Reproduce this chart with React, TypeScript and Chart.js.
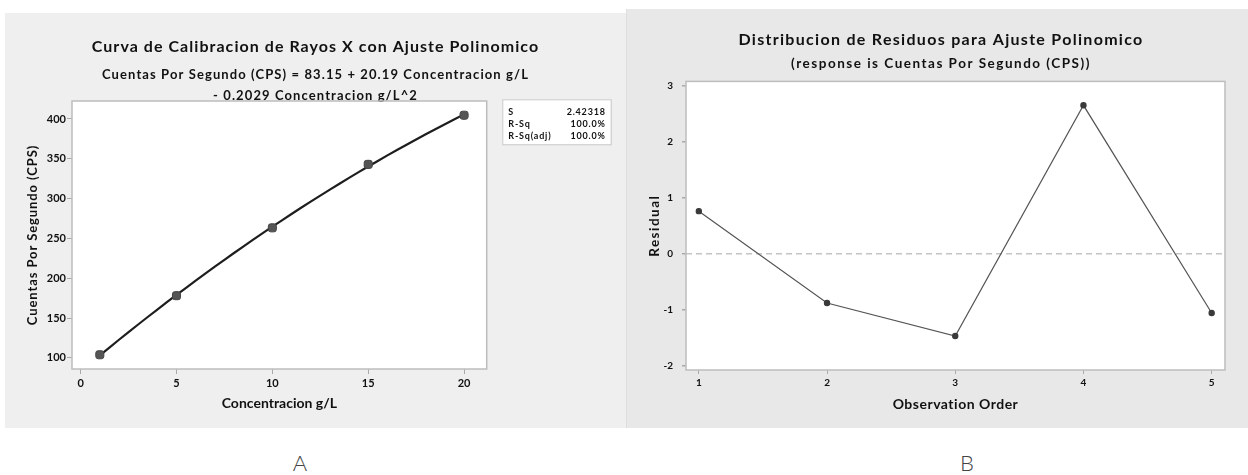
import React, { useEffect, useRef } from "react";
import { Chart, registerables } from "chart.js";
Chart.register(...registerables);

const FONT = "Lato, 'Open Sans', 'DejaVu Sans', sans-serif";

// ---- Panel A data ----
const concentration = [1, 5, 10, 15, 20];
const cps = [103.9, 178.1, 263.3, 343.0, 404.7];
const fitConcentration = [1, 2, 3, 4, 5, 6, 7, 8, 9, 10, 11, 12, 13, 14, 15, 16, 17, 18, 19, 20];
const fitCps = [103.14, 122.72, 141.89, 160.66, 179.03, 196.99, 214.54, 231.68, 248.42, 264.76,
  280.69, 296.21, 311.33, 326.04, 340.35, 354.25, 367.74, 380.83, 393.51, 405.79];
const xTicksA = [0, 5, 10, 15, 20];
const yTicksA = [100, 150, 200, 250, 300, 350, 400];
const titleA = "Curva de Calibracion de Rayos X con Ajuste Polinomico";
const subtitleA = ["Cuentas Por Segundo (CPS) = 83.15 + 20.19 Concentracion g/L", "- 0.2029 Concentracion g/L^2"];
const xTitleA = "Concentracion g/L";
const yTitleA = "Cuentas Por Segundo (CPS)";
const statLabels = ["S", "R-Sq", "R-Sq(adj)"];
const statValues = ["2.42318", "100.0%", "100.0%"];

// ---- Panel B data ----
const observationOrder = [1, 2, 3, 4, 5];
const residuals = [0.76, -0.88, -1.47, 2.65, -1.06];
const xTicksB = [1, 2, 3, 4, 5];
const yTicksB = [-2, -1, 0, 1, 2, 3];
const titleB = "Distribucion de Residuos para Ajuste Polinomico";
const subtitleB = "(response is Cuentas Por Segundo (CPS))";
const xTitleB = "Observation Order";
const yTitleB = "Residual";

const framePlugin = {
  id: "frame",
  beforeDraw(chart: any) {
    const { ctx, chartArea: a } = chart;
    ctx.save();
    ctx.fillStyle = "#ffffff";
    ctx.fillRect(a.left, a.top, a.right - a.left, a.bottom - a.top);
    ctx.restore();
  },
  afterDraw(chart: any) {
    const { ctx, chartArea: a } = chart;
    ctx.save();
    ctx.strokeStyle = "#bdbdbd";
    ctx.lineWidth = 1.5;
    ctx.strokeRect(a.left, a.top, a.right - a.left, a.bottom - a.top);
    ctx.restore();
  },
};

// letter spacing for individual text elements (the reference text is widely spaced)
function makeSpacingPlugin(cfg: { title: number; subtitle: number; xTitle: number; yTitle: number; ticks: number }) {
  return {
    id: "spacing",
    beforeDraw(chart: any) {
      if (chart.$spaced) return;
      chart.$spaced = true;
      const ctx = chart.ctx;
      const wrap = (obj: any, key: string, ls: number) => {
        const orig = obj[key];
        obj[key] = function (...args: any[]) {
          const prev = ctx.letterSpacing;
          ctx.letterSpacing = ls + "px";
          try {
            return orig.apply(this, args);
          } finally {
            ctx.letterSpacing = prev || "0px";
          }
        };
      };
      chart.boxes.forEach((b: any) => {
        if (b === chart.titleBlock) {
          wrap(b, "draw", cfg.title);
        } else if (b.options && b.options.text !== undefined && !b.axis && b.constructor && b.draw && !b.id) {
          wrap(b, "draw", cfg.subtitle);
        }
      });
      Object.values(chart.scales).forEach((s: any) => {
        if (s.id === "x") wrap(s, "drawTitle", cfg.xTitle);
        if (s.id === "y") wrap(s, "drawTitle", cfg.yTitle);
        wrap(s, "drawLabels", cfg.ticks);
      });
    },
  };
}

const statBoxPlugin = {
  id: "statBox",
  afterDraw(chart: any) {
    const { ctx, chartArea: a } = chart;
    const left = a.right + 15.6;
    const top = a.top - 1.7;
    const w = 108.4;
    const h = 45;
    ctx.save();
    ctx.fillStyle = "#ffffff";
    ctx.fillRect(left, top, w, h);
    ctx.strokeStyle = "#c8c8c8";
    ctx.lineWidth = 1;
    ctx.strokeRect(left + 0.5, top + 0.5, w, h);
    ctx.fillStyle = "#111";
    ctx.font = `bold 9px ${FONT}`;
    (ctx as any).letterSpacing = "0.8px";
    ctx.textBaseline = "middle";
    statLabels.forEach((lab, i) => {
      const y = top + 12.4 + i * 12.3;
      ctx.textAlign = "left";
      ctx.fillText(lab, left + 6, y);
      ctx.textAlign = "right";
      ctx.fillText(statValues[i], left + w - 5, y);
    });
    ctx.restore();
  },
};

function fixedTicks(values: number[]) {
  return (scale: any) => {
    scale.ticks = values.map((v) => ({ value: v }));
  };
}

const spacerAxis = (width: number) => ({
  type: "linear",
  position: "right",
  display: true,
  grid: { display: false, drawTicks: false },
  border: { display: false },
  ticks: { display: false },
  afterFit: (s: any) => { s.width = width; },
});

function makeA(canvas: HTMLCanvasElement) {
  return new Chart(canvas, {
    type: "scatter",
    data: {
      datasets: [
        {
          data: concentration.map((x, i) => ({ x, y: cps[i] })),
          pointRadius: 4.7,
          pointStyle: "rectRounded",
          pointBackgroundColor: "#555555",
          pointBorderColor: "#444444",
          pointBorderWidth: 1,
          showLine: false,
        },
        {
          data: fitConcentration.map((x, i) => ({ x, y: fitCps[i] })),
          showLine: true,
          borderColor: "#1e1e1e",
          borderWidth: 2.2,
          pointRadius: 0,
          tension: 0.3,
        },
      ],
    },
    options: {
      responsive: false,
      animation: false,
      layout: { padding: { left: 20, right: 20, top: 0, bottom: 17 } },
      plugins: {
        legend: { display: false },
        tooltip: { enabled: false },
        title: {
          display: true,
          text: titleA,
          color: "#111",
          font: { family: FONT, size: 16, weight: "bold", lineHeight: 1.2 },
          padding: { top: 24.4, bottom: 0 },
        },
        subtitle: {
          display: true,
          text: subtitleA,
          color: "#111",
          font: { family: FONT, size: 13, weight: "bold", lineHeight: 21 / 13 },
          padding: { top: 7.9, bottom: -5.5 },
        },
      },
      scales: {
        x: {
          type: "linear",
          min: -0.45,
          max: 21.18,
          afterBuildTicks: fixedTicks(xTicksA),
          afterFit: (s: any) => { s.height = 42; },
          grid: { drawOnChartArea: false, drawTicks: true, tickLength: 5, tickColor: "#aaaaaa" },
          border: { display: false },
          ticks: { color: "#111", padding: 2.5, font: { family: FONT, size: 11, weight: "bold" }, maxRotation: 0 },
          title: { display: true, text: xTitleA, color: "#111", padding: 0, font: { family: FONT, size: 14, weight: "bold", lineHeight: 16 / 14 } },
        },
        y: {
          type: "linear",
          min: 86,
          max: 422.6,
          afterBuildTicks: fixedTicks(yTicksA),
          afterFit: (s: any) => { s.width = 47; },
          grid: { drawOnChartArea: false, drawTicks: true, tickLength: 5, tickColor: "#aaaaaa" },
          border: { display: false },
          ticks: { color: "#111", padding: 1, font: { family: FONT, size: 11, weight: "bold" } },
          title: { display: true, text: yTitleA, color: "#111", padding: 0, font: { family: FONT, size: 13, weight: "bold", lineHeight: 16 / 13 } },
        },
        spacer: spacerAxis(119.3),
      },
    },
    plugins: [framePlugin, statBoxPlugin, makeSpacingPlugin({ title: 1.05, subtitle: 1.1, xTitle: 0, yTitle: 0.9, ticks: 0 })],
  } as any);
}

function makeB(canvas: HTMLCanvasElement) {
  return new Chart(canvas, {
    type: "scatter",
    data: {
      datasets: [
        {
          data: observationOrder.map((x, i) => ({ x, y: residuals[i] })),
          showLine: true,
          borderColor: "#555555",
          borderWidth: 1.2,
          pointRadius: 2.6,
          pointBackgroundColor: "#3a3a3a",
          pointBorderColor: "#3a3a3a",
          tension: 0,
        },
      ],
    },
    options: {
      responsive: false,
      animation: false,
      layout: { padding: { left: 21, right: 13, top: 0, bottom: 16 } },
      plugins: {
        legend: { display: false },
        tooltip: { enabled: false },
        title: {
          display: true,
          text: titleB,
          color: "#111",
          font: { family: FONT, size: 16, weight: "bold", lineHeight: 1.2 },
          padding: { top: 21.4, bottom: 0 },
        },
        subtitle: {
          display: true,
          text: subtitleB,
          color: "#111",
          font: { family: FONT, size: 13.5, weight: "bold", lineHeight: 1.2 },
          padding: { top: 6, bottom: 9.6 },
        },
      },
      scales: {
        x: {
          type: "linear",
          min: 0.9,
          max: 5.104,
          afterBuildTicks: fixedTicks(xTicksB),
          afterFit: (s: any) => { s.height = 42; },
          grid: { drawOnChartArea: false, drawTicks: true, tickLength: 4, tickColor: "#aaaaaa" },
          border: { display: false },
          ticks: { color: "#111", padding: 2.5, font: { family: FONT, size: 10, weight: "bold" }, maxRotation: 0 },
          title: { display: true, text: xTitleB, color: "#111", padding: 0, font: { family: FONT, size: 14, weight: "bold", lineHeight: 16 / 14 } },
        },
        y: {
          type: "linear",
          min: -2.077,
          max: 3.077,
          afterBuildTicks: fixedTicks(yTicksB),
          afterFit: (s: any) => { s.width = 39; },
          grid: {
            drawOnChartArea: true,
            drawTicks: true,
            tickLength: 4,
            tickColor: "#aaaaaa",
            lineWidth: 1.5,
            color: (ctx: any) => (ctx.tick && ctx.tick.value === 0 ? "#c4c4c4" : "rgba(0,0,0,0)"),
          },
          border: { display: false, dash: [6, 4] },
          ticks: { color: "#111", padding: 9, font: { family: FONT, size: 10, weight: "bold" } },
          title: { display: true, text: yTitleB, color: "#111", padding: 0, font: { family: FONT, size: 13.5, weight: "bold", lineHeight: 16 / 13.5 } },
        },
        spacer: spacerAxis(10),
      },
    },
    plugins: [framePlugin, makeSpacingPlugin({ title: 1.3, subtitle: 1.5, xTitle: 0.5, yTitle: 1.5, ticks: 0 })],
  } as any);
}

export default function App() {
  const refA = useRef<HTMLCanvasElement>(null);
  const refB = useRef<HTMLCanvasElement>(null);
  useEffect(() => {
    const a = makeA(refA.current!);
    const b = makeB(refB.current!);
    return () => {
      a.destroy();
      b.destroy();
    };
  }, []);
  const labelStyle: React.CSSProperties = {
    position: "absolute",
    width: 40,
    textAlign: "center",
    fontFamily: FONT,
    fontWeight: 300,
    fontSize: 22,
    lineHeight: "26px",
    color: "#444",
  };
  return (
    <div style={{ position: "absolute", left: 0, top: 0, width: 1248, height: 475, background: "#fff", overflow: "hidden" }}>
      <div style={{ position: "absolute", left: 5, top: 13, width: 621, height: 415, background: "#efefef" }}>
        <canvas ref={refA} width={621} height={415} style={{ display: "block" }} />
      </div>
      <div style={{ position: "absolute", left: 626, top: 9, width: 622, height: 419, background: "#e8e8e8", boxShadow: "inset 1px 0 0 #dedede" }}>
        <canvas ref={refB} width={622} height={419} style={{ display: "block" }} />
      </div>
      <div style={{ ...labelStyle, left: 280, top: 450 }}>A</div>
      <div style={{ ...labelStyle, left: 947, top: 450 }}>B</div>
    </div>
  );
}
